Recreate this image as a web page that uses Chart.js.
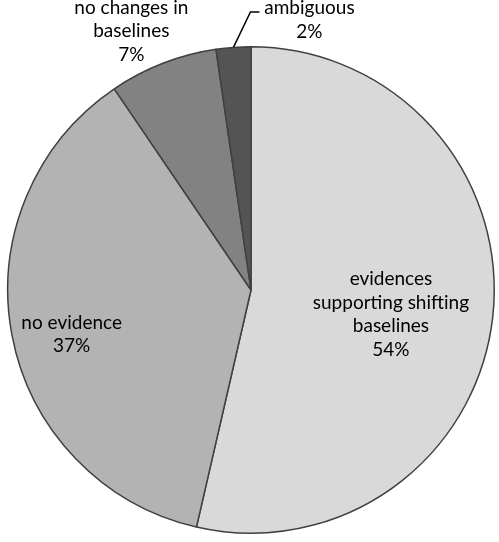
<!DOCTYPE html>
<html>
<head>
<meta charset="utf-8">
<script src="https://cdn.jsdelivr.net/npm/chart.js@4"></script>
<style>
  html, body { margin: 0; padding: 0; background: #fff; }
  #wrap { width: 499px; height: 542px; }
</style>
</head>
<body>
<div id="wrap"><canvas id="pie"></canvas></div>
<script>
const categories = ['evidences\nsupporting shifting\nbaselines', 'no evidence', 'no changes in\nbaselines', 'ambiguous'];
const shares = [53.6, 36.9, 7.2, 2.3];
const sliceColors = ['#d9d9d9', '#b3b3b3', '#828282', '#545454'];

// where each label sits: radius fraction along the slice's middle angle, then a nudge
const labelPlace = [
    { frac: 0.67, dx: -22, dy: 6 },
    { frac: 0.75, dx: 0, dy: 11 },
    { frac: 1.12, dx: -21, dy: 0, fixedY: 31 },
    { frac: 1.0, dx: 76, dy: 0, fixedY: 20, leader: true },
];

const FONT = '19px Lato';
const LINE_H = 23.5;

const pieLabels = {
    id: 'pieLabels',
    afterDatasetsDraw(chart) {
        const ctx = chart.ctx;
        const arcs = chart.getDatasetMeta(0).data;
        ctx.save();
        ctx.font = FONT;
        ctx.fillStyle = '#000';
        ctx.textAlign = 'center';
        ctx.textBaseline = 'middle';
        arcs.forEach((arc, i) => {
            const p = arc.getProps(['x', 'y', 'startAngle', 'endAngle', 'outerRadius'], true);
            const mid = (p.startAngle + p.endAngle) / 2;
            const place = labelPlace[i];
            const lines = categories[i].split('\n').concat([Math.round(shares[i]) + '%']);
            let cx = p.x + Math.cos(mid) * p.outerRadius * place.frac + place.dx;
            let cy = p.y + Math.sin(mid) * p.outerRadius * place.frac + place.dy;
            if (place.fixedY !== undefined) cy = place.fixedY;
            if (place.leader) {
                const ex = p.x + Math.cos(mid) * p.outerRadius;
                const ey = p.y + Math.sin(mid) * p.outerRadius;
                ctx.strokeStyle = '#000';
                ctx.lineWidth = 1.5;
                ctx.beginPath();
                ctx.moveTo(ex, ey);
                ctx.lineTo(ex + 17, 12);
                ctx.lineTo(ex + 26, 12);
                ctx.stroke();
            }
            const top = cy - (lines.length - 1) * LINE_H / 2;
            lines.forEach((t, k) => ctx.fillText(t, cx, top + k * LINE_H));
        });
        ctx.restore();
    }
};

new Chart(
    document.getElementById('pie'),
    {
        type: 'pie',
        data: {
            labels: categories,
            datasets: [
                {
                    data: shares,
                    backgroundColor: sliceColors,
                    borderColor: '#404040',
                    borderWidth: 1.5,
                },
            ]
        },
        options: {
            responsive: true,
            maintainAspectRatio: false,
            animation: false,
            layout: {
                padding: { left: 7, right: 4, top: 46, bottom: 8 }
            },
            plugins: {
                legend: { display: false },
                tooltip: { enabled: false },
            },
        },
        plugins: [pieLabels],
    }
);
</script>
</body>
</html>
